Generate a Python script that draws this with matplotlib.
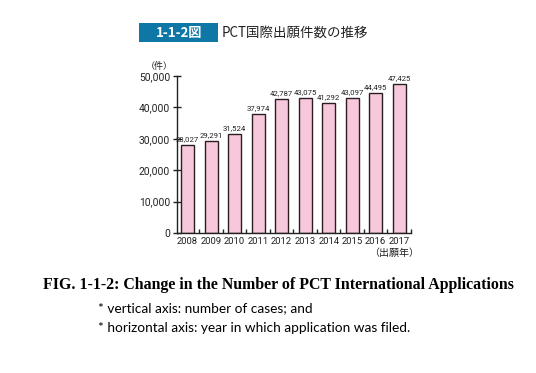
import matplotlib
matplotlib.use("Agg")
import matplotlib.pyplot as plt
from matplotlib.patches import Rectangle

years = ["2008", "2009", "2010", "2011", "2012", "2013", "2014", "2015", "2016", "2017"]
counts = [28027, 29291, 31524, 37974, 42787, 43075, 41292, 43097, 44495, 47425]
yticks = [0, 10000, 20000, 30000, 40000, 50000]
ytick_labels = ["0", "10,000", "20,000", "30,000", "40,000", "50,000"]

W, H = 536, 373
fig = plt.figure(figsize=(W / 100, H / 100), dpi=100)
fig.patch.set_facecolor("white")

cjk = ["Noto Sans CJK JP", "DejaVu Sans"]
narrow = ["Roboto", "DejaVu Sans"]

def fx(px):
    return px / W

def fy(py):
    return 1 - py / H

# axes placement
left, right, top, bottom = 177, 411, 76, 233
ax = fig.add_axes([fx(left), fy(bottom), fx(right - left), (bottom - top) / H])
x = list(range(len(years)))
ax.bar(x, counts, width=0.55, color="#f7c8dc", edgecolor="#2b1d22", linewidth=1.0, zorder=2)
ax.set_xlim(-0.45, 9.5)
ax.set_ylim(0, 50000)
for s in ["top", "right"]:
    ax.spines[s].set_visible(False)
for s in ["left", "bottom"]:
    ax.spines[s].set_color("#222222")
    ax.spines[s].set_linewidth(1.0)

ax.set_yticks(yticks)
ax.set_yticklabels(ytick_labels, family=narrow, fontsize=7.4, color="#222222")
ax.tick_params(axis="y", direction="inout", length=6, width=1.0, pad=2, color="#222222")

ax.set_xticks(x)
ax.set_xticklabels(years, family=narrow, fontsize=6.8, color="#222222")
ax.tick_params(axis="x", length=0, pad=3)
ax.set_xticks([i + 0.5 for i in range(len(years))], minor=True)
ax.tick_params(axis="x", which="minor", direction="in", length=3, width=1.0, color="#222222")

for xi, v in zip(x, counts):
    ax.text(xi, v + 900, f"{v:,}", ha="center", va="bottom", family=narrow,
            fontsize=5.6, color="#222222")

# axis unit labels
fig.text(fx(159), fy(66), "（件）", family=cjk, fontsize=6.5, ha="center", va="center", color="#222222")
fig.text(fx(394), fy(253), "（出願年）", family=cjk, fontsize=7.2, ha="center", va="center", color="#222222")

# title box
fig.patches.append(Rectangle((fx(139), fy(42)), fx(218 - 139), (42 - 23) / H,
                             transform=fig.transFigure, facecolor="#0f77a6",
                             edgecolor="none"))
fig.text(fx(179), fy(32.5), "1-1-2図", family=cjk, fontsize=9.5, fontweight="bold",
         color="white", ha="center", va="center")
fig.text(fx(222), fy(32.5), "PCT国際出願件数の推移", family=cjk, fontsize=9.7,
         color="#222222", ha="left", va="center")

# caption
fig.text(fx(278.5), fy(285), "FIG. 1-1-2: Change in the Number of PCT International Applications",
         family=["Liberation Serif", "DejaVu Serif"], fontsize=11.4, fontweight="bold",
         color="black", ha="center", va="center")
fig.text(fx(98), fy(308), "* vertical axis: number of cases; and",
         family=["Lato", "DejaVu Sans"], fontsize=9.8, color="black", ha="left", va="center")
fig.text(fx(98), fy(328), "* horizontal axis: year in which application was filed.",
         family=["Lato", "DejaVu Sans"], fontsize=9.8, color="black", ha="left", va="center")

fig.savefig("out.png", dpi=100, facecolor="white")
